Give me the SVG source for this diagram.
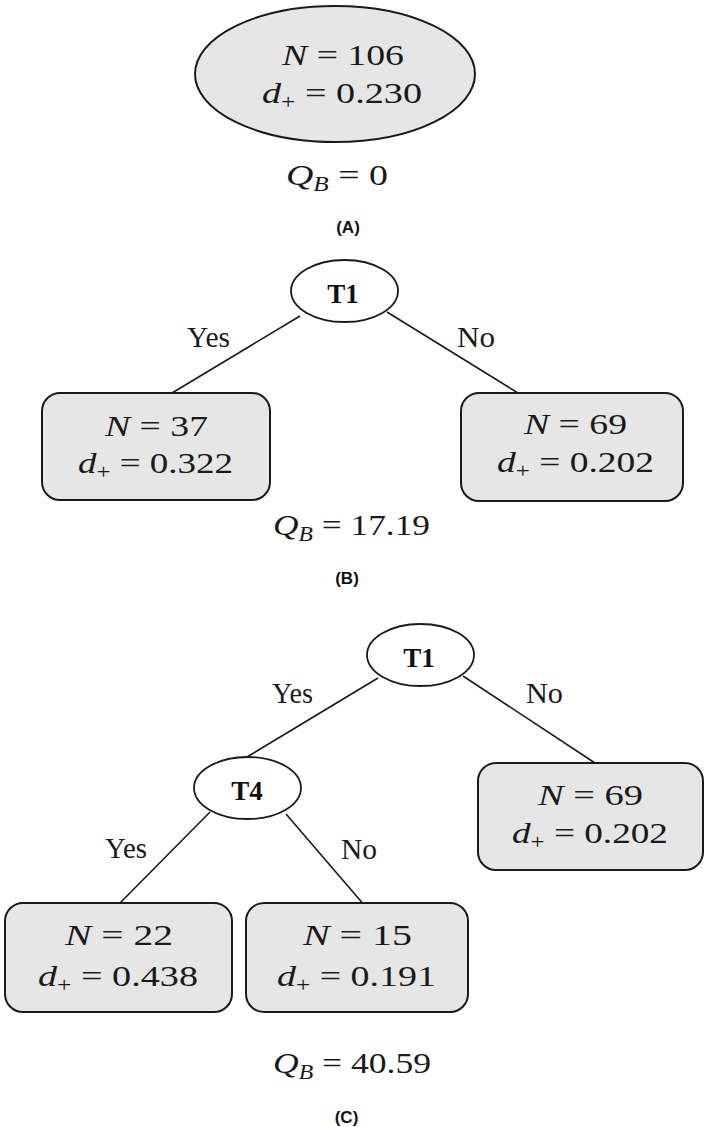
<svg xmlns="http://www.w3.org/2000/svg" width="709" height="1127" viewBox="0 0 709 1127">
<style>
.leaf{fill:#e6e6e6;stroke:#1a1a1a;stroke-width:2}
.test{fill:#ffffff;stroke:#1a1a1a;stroke-width:1.8}
.edge{stroke:#1a1a1a;stroke-width:1.6;fill:none}
.m{font-family:"Liberation Serif","DejaVu Serif",serif;font-size:30px;fill:#1a1a1a;text-anchor:middle}
.i{font-style:italic}
.sub{font-size:20px}
.lab{font-family:"Liberation Serif","DejaVu Serif",serif;font-size:29px;fill:#1a1a1a;text-anchor:middle}
.t{font-family:"Liberation Serif","DejaVu Serif",serif;font-size:27px;font-weight:bold;fill:#111;text-anchor:middle}
.cap{font-family:"Liberation Sans",Arial,sans-serif;font-size:17px;font-weight:bold;fill:#111;text-anchor:middle}
</style>
<rect width="709" height="1127" fill="#ffffff"/>

<!-- Panel A -->
<g id="A-root">
<ellipse class="leaf" cx="335" cy="74" rx="140" ry="68"/>
<text class="m" x="343" y="65" textLength="122" lengthAdjust="spacingAndGlyphs"><tspan class="i">N</tspan> = 106</text>
<text class="m" x="342" y="103" textLength="160" lengthAdjust="spacingAndGlyphs"><tspan class="i">d</tspan><tspan class="sub" dy="6">+</tspan><tspan dy="-6"> = 0.230</tspan></text>
</g>
<text class="m" x="337" y="185" textLength="102" lengthAdjust="spacingAndGlyphs"><tspan class="i">Q</tspan><tspan class="sub i" dy="6">B</tspan><tspan dy="-6"> = 0</tspan></text>
<text class="cap" x="348" y="233">(A)</text>

<!-- Panel B -->
<g id="B-edges">
<line class="edge" x1="300" y1="316" x2="172" y2="393"/>
<line class="edge" x1="387" y1="312" x2="518" y2="393"/>
<text class="lab" x="208.5" y="347" textLength="43" lengthAdjust="spacingAndGlyphs">Yes</text>
<text class="lab" x="476" y="347" textLength="38" lengthAdjust="spacingAndGlyphs">No</text>
</g>
<g id="B-T1">
<ellipse class="test" cx="344.5" cy="291" rx="53.5" ry="31"/>
<text class="t" x="343" y="303">T1</text>
</g>
<g id="B-yes">
<rect class="leaf" x="42" y="393" width="228" height="107" rx="18"/>
<text class="m" x="156.5" y="436" textLength="103" lengthAdjust="spacingAndGlyphs"><tspan class="i">N</tspan> = 37</text>
<text class="m" x="155.5" y="473" textLength="155" lengthAdjust="spacingAndGlyphs"><tspan class="i">d</tspan><tspan class="sub" dy="6">+</tspan><tspan dy="-6"> = 0.322</tspan></text>
</g>
<g id="B-no">
<rect class="leaf" x="461" y="393" width="222" height="108" rx="18"/>
<text class="m" x="575.5" y="434" textLength="103" lengthAdjust="spacingAndGlyphs"><tspan class="i">N</tspan> = 69</text>
<text class="m" x="575.5" y="472" textLength="157" lengthAdjust="spacingAndGlyphs"><tspan class="i">d</tspan><tspan class="sub" dy="6">+</tspan><tspan dy="-6"> = 0.202</tspan></text>
</g>
<text class="m" x="351.5" y="535" textLength="157" lengthAdjust="spacingAndGlyphs"><tspan class="i">Q</tspan><tspan class="sub i" dy="6">B</tspan><tspan dy="-6"> = 17.19</tspan></text>
<text class="cap" x="347" y="584">(B)</text>

<!-- Panel C -->
<g id="C-edges">
<line class="edge" x1="378" y1="678" x2="247" y2="757"/>
<line class="edge" x1="463" y1="676" x2="595" y2="763"/>
<line class="edge" x1="210" y1="812" x2="120" y2="903"/>
<line class="edge" x1="286" y1="814" x2="365" y2="906"/>
<text class="lab" x="292.5" y="703" textLength="41" lengthAdjust="spacingAndGlyphs">Yes</text>
<text class="lab" x="544.5" y="703" textLength="37" lengthAdjust="spacingAndGlyphs">No</text>
<text class="lab" x="126" y="858" textLength="42" lengthAdjust="spacingAndGlyphs">Yes</text>
<text class="lab" x="359" y="859" textLength="36" lengthAdjust="spacingAndGlyphs">No</text>
</g>
<g id="C-T1">
<ellipse class="test" cx="420.5" cy="655" rx="53.5" ry="31"/>
<text class="t" x="419" y="667">T1</text>
</g>
<g id="C-T4">
<ellipse class="test" cx="247.5" cy="788" rx="53.5" ry="31"/>
<text class="t" x="247" y="800">T4</text>
</g>
<g id="C-no">
<rect class="leaf" x="478" y="763" width="225" height="107" rx="18"/>
<text class="m" x="590.5" y="805" textLength="105" lengthAdjust="spacingAndGlyphs"><tspan class="i">N</tspan> = 69</text>
<text class="m" x="590" y="843" textLength="156" lengthAdjust="spacingAndGlyphs"><tspan class="i">d</tspan><tspan class="sub" dy="6">+</tspan><tspan dy="-6"> = 0.202</tspan></text>
</g>
<g id="C-yes-yes">
<rect class="leaf" x="5" y="903" width="227" height="109" rx="18"/>
<text class="m" x="119" y="945" textLength="108" lengthAdjust="spacingAndGlyphs"><tspan class="i">N</tspan> = 22</text>
<text class="m" x="118" y="986" textLength="160" lengthAdjust="spacingAndGlyphs"><tspan class="i">d</tspan><tspan class="sub" dy="6">+</tspan><tspan dy="-6"> = 0.438</tspan></text>
</g>
<g id="C-yes-no">
<rect class="leaf" x="246" y="903" width="222" height="109" rx="18"/>
<text class="m" x="357.5" y="945" textLength="109" lengthAdjust="spacingAndGlyphs"><tspan class="i">N</tspan> = 15</text>
<text class="m" x="356.5" y="986" textLength="159" lengthAdjust="spacingAndGlyphs"><tspan class="i">d</tspan><tspan class="sub" dy="6">+</tspan><tspan dy="-6"> = 0.191</tspan></text>
</g>
<text class="m" x="352" y="1073" textLength="158" lengthAdjust="spacingAndGlyphs"><tspan class="i">Q</tspan><tspan class="sub i" dy="6">B</tspan><tspan dy="-6"> = 40.59</tspan></text>
<text class="cap" x="346.5" y="1123">(C)</text>
</svg>
